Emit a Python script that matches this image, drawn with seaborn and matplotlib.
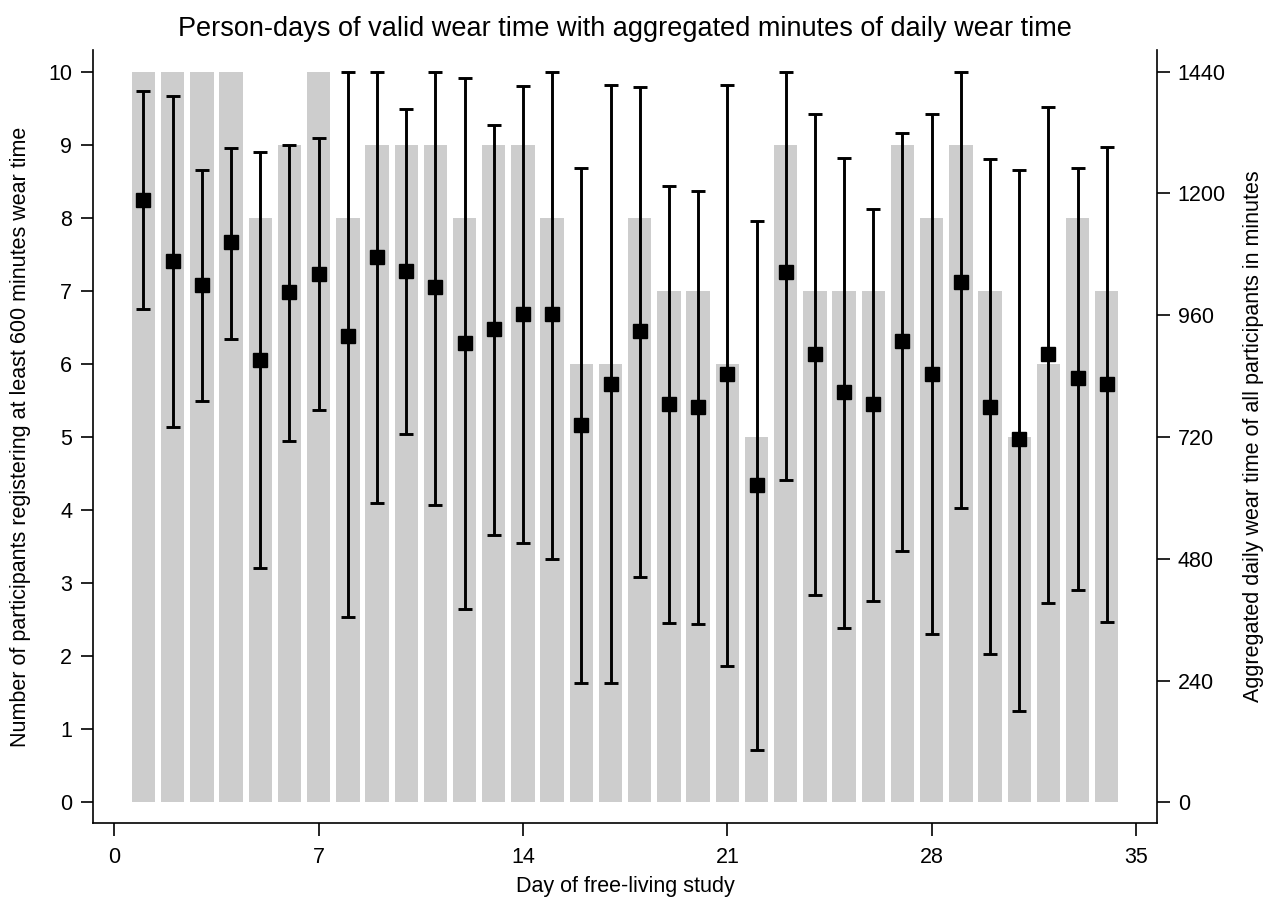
import numpy as np
import pandas as pd
import matplotlib
matplotlib.use("Agg")
import matplotlib.pyplot as plt
import seaborn as sns

# ---- data ----
days = list(range(1, 35))
n_valid = [10, 10, 10, 10, 8, 9, 10, 8, 9, 9, 9, 8, 9, 9, 8, 6, 6, 8, 7, 7, 6, 5, 9, 7, 7, 7, 9, 8, 9, 7, 5, 6, 8, 7]
mean_minutes = [1187, 1067, 1020, 1104, 871, 1005, 1041, 920, 1074, 1048, 1015, 906, 933, 963, 963,
                743, 824, 929, 786, 779, 844, 625, 1045, 883, 809, 785, 909, 845, 1025, 780, 716, 883, 837, 825]
low_minutes = [972, 739, 791, 914, 461, 713, 773, 366, 590, 726, 586, 382, 527, 511, 480,
               235, 235, 445, 354, 351, 269, 104, 635, 408, 343, 396, 495, 331, 580, 292, 180, 393, 419, 356]
high_minutes = [1401, 1392, 1247, 1290, 1282, 1295, 1309, 1440, 1440, 1367, 1440, 1427, 1335, 1411, 1440,
                1250, 1413, 1410, 1215, 1204, 1413, 1145, 1440, 1356, 1270, 1169, 1320, 1356, 1440, 1267, 1246, 1371, 1251, 1292]
left_ticks = list(range(0, 11))
right_ticks = [0, 240, 480, 720, 960, 1200, 1440]
x_ticks = [0, 7, 14, 21, 28, 35]

df = pd.DataFrame({"day": days, "n": n_valid, "mean": mean_minutes,
                   "lo": low_minutes, "hi": high_minutes})

sns.set_theme(style="white")
plt.rcParams["font.family"] = ["Liberation Sans", "DejaVu Sans"]

fig = plt.figure(figsize=(12.75, 9.02), dpi=100)
ax = fig.add_axes([93 / 1275, 1 - 823 / 902, (1157 - 93) / 1275, (823 - 50) / 902])

sns.barplot(data=df, x="day", y="n", native_scale=True, color="#cdcdcd",
            saturation=1, width=0.8, ax=ax, linewidth=0, errorbar=None)

ax.set_xlim(-0.73, 35.72)
ax.set_ylim(-0.283, 10.297)
ax.set_xticks(x_ticks)
ax.set_xticklabels([str(t) for t in x_ticks])
ax.set_yticks(left_ticks)
ax.set_yticklabels([str(t) for t in left_ticks])

ax2 = ax.twinx()
ax2.set_ylim(-0.283 * 144, 10.297 * 144)
yerr = np.array([df["mean"] - df["lo"], df["hi"] - df["mean"]])
ax2.errorbar(df["day"], df["mean"], yerr=yerr, fmt="s", color="black",
             markersize=9.5, elinewidth=2.1, capsize=5.0, capthick=2.1)
ax2.set_yticks(right_ticks)
ax2.set_yticklabels([str(t) for t in right_ticks])

for a in (ax, ax2):
    a.spines["top"].set_visible(False)
    for s in ("left", "right", "bottom"):
        a.spines[s].set_color("black")
        a.spines[s].set_linewidth(1.2)
    a.tick_params(axis="both", which="major", length=9, width=1.2, color="black",
                  labelsize=15.5, pad=6, labelcolor="black")
    a.grid(False)
ax.tick_params(axis="x", bottom=True, pad=8)
ax.tick_params(axis="y", left=True)
ax2.tick_params(axis="y", right=True)
ax2.spines["left"].set_visible(False)
ax2.spines["bottom"].set_visible(False)
ax.spines["right"].set_visible(False)

ax.set_xlabel("Day of free-living study", fontsize=15.5, labelpad=6, color="black")
ax.set_ylabel("Number of participants registering at least 600 minutes wear time",
              fontsize=15.5, labelpad=12, color="black")
ax2.set_ylabel("Aggregated daily wear time of all participants in minutes",
               fontsize=15.5, labelpad=12, color="black")
ax.set_title("Person-days of valid wear time with aggregated minutes of daily wear time",
             fontsize=19.5, pad=10, color="black")

fig.savefig("out.png", dpi=100, facecolor="white")
